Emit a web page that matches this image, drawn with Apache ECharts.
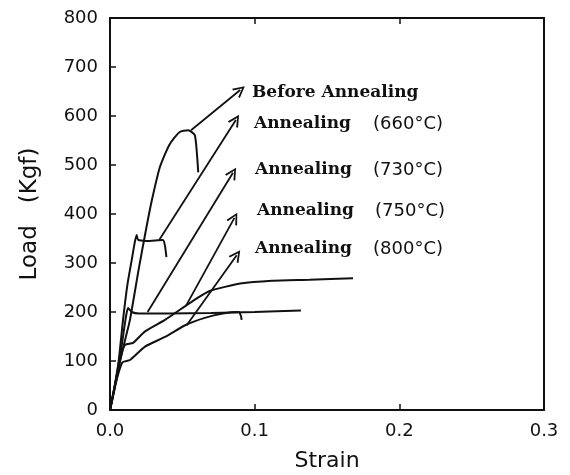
<!DOCTYPE html>
<html>
<head>
<meta charset="utf-8">
<script src="https://cdn.jsdelivr.net/npm/echarts@6/dist/echarts.min.js"></script>
<style>
html,body{margin:0;padding:0;background:#fff;}
#c{width:570px;height:475px;}
</style>
</head>
<body>
<div id="c"></div>
<script>
// ---- data (strain, load in kgf) ----
const xTicks = [0, 0.1, 0.2, 0.3];
const yTicks = [0, 100, 200, 300, 400, 500, 600, 700, 800];

const beforeAnnealing = [[0,0],[0.003,40],[0.007,100],[0.011,150],[0.0138,184],[0.02,290],[0.025,370],[0.029,429],[0.0345,496],[0.041,541],[0.048,567],[0.054,571],[0.0586,561],[0.0603,515],[0.061,485]];
const anneal660 = [[0,0],[0.003,45],[0.006,100],[0.009,184],[0.012,255],[0.015,306],[0.017,340],[0.0184,357],[0.0195,347],[0.025,345],[0.0366,347],[0.038,335],[0.039,312]];
const anneal730 = [[0,0],[0.004,60],[0.008,130],[0.011,190],[0.0125,208],[0.015,200],[0.02,197],[0.04,197],[0.07,198],[0.1,200],[0.132,203]];
const anneal750 = [[0,0],[0.004,60],[0.008,115],[0.0105,133],[0.016,137],[0.024,160],[0.038,184],[0.052,212],[0.06,228],[0.069,243],[0.09,258],[0.112,264],[0.138,266],[0.168,269]];
const anneal800 = [[0,0],[0.004,55],[0.0085,97],[0.0138,102],[0.024,129],[0.038,149],[0.052,173],[0.0655,188],[0.078,197],[0.089,200],[0.0905,192],[0.091,184]];

// arrows: [start, end] in data coords
const arrowBefore = [[0.056,571],[0.090,653]];
const arrow660 = [[0.034,347],[0.087,592]];
const arrow730 = [[0.026,200],[0.085,484]];
const arrow750 = [[0.0524,212],[0.086,392]];
const arrow800 = [[0.053,173],[0.0876,316]];

const labelNames = ['Before Annealing','Annealing','Annealing','Annealing','Annealing'];
const labelTemps = ['', '(660°C)', '(730°C)', '(750°C)', '(800°C)'];

// ---- chart ----
const chart = echarts.init(document.getElementById('c'), null, {renderer:'canvas'});
const ink = '#111';
const tickFont = {color: ink, fontSize: 18, fontFamily: 'DejaVu Sans'};

function curve(d){
  return {type:'line', data:d, showSymbol:false, symbol:'none', smooth:0.2,
    lineStyle:{color:ink, width:2}, silent:true, animation:false, z:3};
}
const arrows = [arrowBefore, arrow660, arrow730, arrow750, arrow800];
const arrowHead = 'path://M0,19 L10,0 L20,19 L17,20 L10,6 L3,20 Z';

const labelPos = [[252,95],[254,126],[255,172],[257,213],[255,251]];
const tempX = [0, 373, 373, 375, 373];
const graphics = [];
labelPos.forEach((p,i)=>{
  graphics.push({type:'text', left:p[0], top:p[1]-11, silent:true,
    style:{text:labelNames[i], fill:ink, font:'bold 17px "DejaVu Serif"'}});
  if(labelTemps[i]){
    graphics.push({type:'text', left:tempX[i], top:p[1]-11, silent:true,
      style:{text:labelTemps[i], fill:ink, font:'18px "DejaVu Sans"'}});
  }
});

const axisLineStyle = {show:true, onZero:false, lineStyle:{color:ink, width:2}};
const option = {
  backgroundColor:'#fff',
  animation:false,
  grid:{left:110, right:26, top:18, bottom:65, containLabel:false, outerBoundsMode:'none', show:false},
  xAxis:[{
    type:'value', min:xTicks[0], max:xTicks[xTicks.length-1], interval:0.1,
    name:'Strain', nameLocation:'middle', nameGap:40,
    nameTextStyle:{color:ink, fontSize:22, fontFamily:'DejaVu Sans'},
    axisLine:axisLineStyle,
    axisTick:{show:true, inside:true, length:6, lineStyle:{color:ink, width:1.5}},
    axisLabel:{...tickFont, margin:12, formatter:v=>v.toFixed(1)},
    splitLine:{show:false}
  },{
    type:'value', position:'top', min:xTicks[0], max:xTicks[xTicks.length-1], interval:0.1,
    axisLine:axisLineStyle,
    axisTick:{show:true, inside:true, length:6, lineStyle:{color:ink, width:1.5}},
    axisLabel:{show:false}, splitLine:{show:false}
  }],
  yAxis:[{
    type:'value', min:yTicks[0], max:yTicks[yTicks.length-1], interval:100,
    name:'Load   (Kgf)', nameLocation:'middle', nameGap:68, nameRotate:90,
    nameTextStyle:{color:ink, fontSize:23, fontFamily:'DejaVu Sans'},
    axisLine:axisLineStyle,
    axisTick:{show:true, inside:true, length:6, lineStyle:{color:ink, width:1.5}},
    axisLabel:{...tickFont, margin:12},
    splitLine:{show:false}
  },{
    type:'value', position:'right', min:yTicks[0], max:yTicks[yTicks.length-1], interval:100,
    axisLine:axisLineStyle,
    axisTick:{show:false}, axisLabel:{show:false}, splitLine:{show:false}
  }],
  graphic: graphics,
  series:[
    curve(beforeAnnealing), curve(anneal660), curve(anneal730), curve(anneal750), curve(anneal800),
    {type:'line', data:[], silent:true,
      markLine:{silent:true, symbol:['none', arrowHead], symbolSize:[12,12],
        label:{show:false}, lineStyle:{color:ink, type:'solid', width:1.8},
        emphasis:{disabled:true},
        data: arrows.map(a=>[{coord:a[0]},{coord:a[1]}])}
    }
  ]
};
chart.setOption(option);
</script>
</body>
</html>
